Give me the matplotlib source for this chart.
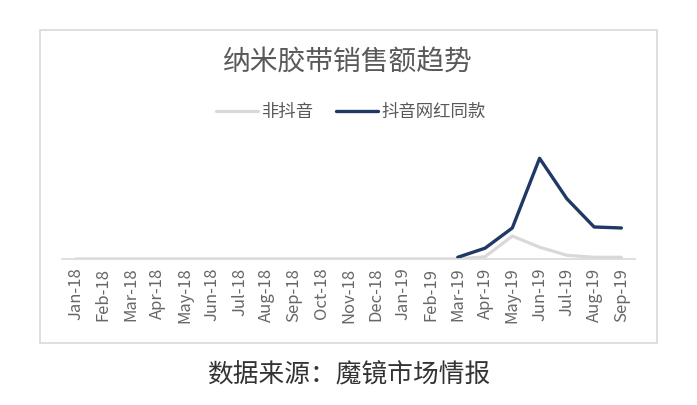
import numpy as np
import matplotlib
matplotlib.use("Agg")
import matplotlib.pyplot as plt
from matplotlib.patches import Rectangle

plt.rcParams['font.family'] = ['Noto Sans CJK SC', 'DejaVu Sans']

months = ["Jan-18", "Feb-18", "Mar-18", "Apr-18", "May-18", "Jun-18", "Jul-18",
          "Aug-18", "Sep-18", "Oct-18", "Nov-18", "Dec-18", "Jan-19", "Feb-19",
          "Mar-19", "Apr-19", "May-19", "Jun-19", "Jul-19", "Aug-19", "Sep-19"]

# relative sales index (peak = 100)
non_douyin = [0.3, 0.3, 0.3, 0.3, 0.3, 0.3, 0.3, 0.3, 0.3, 0.3, 0.3, 0.3, 0.3, 0.3,
              0.3, 2.5, 23, 12, 4, 2, 2]
douyin_style = [np.nan] * 14 + [2, 11, 31, 100, 60, 32, 31]

grey = "#d9d9d9"
navy = "#203864"
text_grey = "#595959"

fig = plt.figure(figsize=(6.97, 4.05), dpi=100)
ax = fig.add_axes([62.4 / 697, 1 - 259.3 / 405, 572.6 / 697, 109.1 / 405])

x = np.arange(len(months))
ax.plot(x, non_douyin, color=grey, lw=2.3, label="非抖音", solid_capstyle="round")
ax.plot(x, douyin_style, color=navy, lw=2.4, label="抖音网红同款", solid_capstyle="round")

ax.set_xlim(-0.5, len(months) - 0.5)
ax.set_ylim(0, 108)
ax.set_xticks(x)
ax.set_xticklabels(months, rotation=90, fontsize=12, color="#666666")
ax.tick_params(axis="x", length=0, pad=6)
ax.set_yticks([])
for side in ["top", "right", "left"]:
    ax.spines[side].set_visible(False)
ax.spines["bottom"].set_color(grey)
ax.spines["bottom"].set_linewidth(1.2)
ax.patch.set_alpha(0)

# chart frame
fig.patches.append(Rectangle((40 / 697, 1 - 343 / 405), 617 / 697, 313 / 405,
                             transform=fig.transFigure, fill=False,
                             edgecolor=grey, lw=1.2))

fig.text(348 / 697, 1 - 63 / 405, "纳米胶带销售额趋势", ha="center", va="center",
         fontsize=20, color=text_grey)

fig.legend(loc="center", bbox_to_anchor=(351 / 697, 1 - 112 / 405), ncol=2,
           frameon=False, fontsize=12.5, labelcolor=text_grey,
           handlelength=2.4, handletextpad=0.2, columnspacing=1.3)

fig.text(349 / 697, 1 - 375 / 405, "数据来源：魔镜市场情报", ha="center", va="center",
         fontsize=18.5, color="#333333")

fig.savefig("out.png", dpi=100)
